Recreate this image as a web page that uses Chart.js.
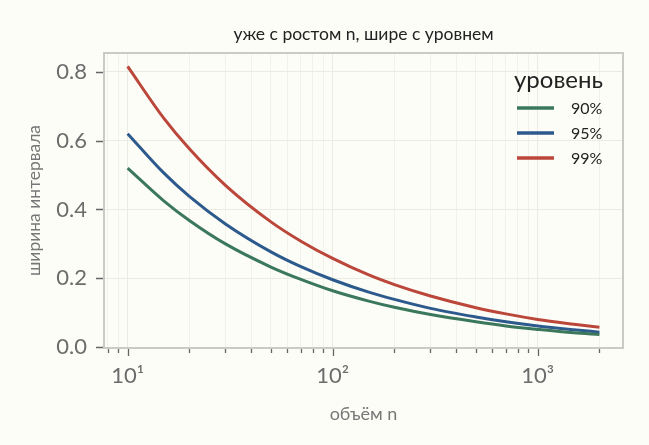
<!DOCTYPE html>
<html><head><meta charset="utf-8">
<script src="https://cdn.jsdelivr.net/npm/chart.js@4/dist/chart.umd.min.js"></script>
<style>html,body{margin:0;padding:0;background:#fdfdf8}#w{width:649px;height:445px}</style>
</head><body><div id="w"><canvas id="c" width="649" height="445"></canvas></div>
<script>
const titleText = 'уже с ростом n, шире с уровнем';
const xTitle = 'объём n';
const yTitle = 'ширина интервала';
const legendTitle = 'уровень';
const seriesLabels = ['90%', '95%', '99%'];
const nValues = [10, 15, 20, 30, 50, 70, 100, 150, 200, 300, 500, 700, 1000, 1500, 2000];
const w90 = [0.520, 0.425, 0.368, 0.300, 0.233, 0.197, 0.164, 0.134, 0.116, 0.095, 0.074, 0.062, 0.052, 0.042, 0.037];
const w95 = [0.620, 0.506, 0.438, 0.358, 0.277, 0.234, 0.196, 0.160, 0.139, 0.113, 0.088, 0.074, 0.062, 0.051, 0.044];
const w99 = [0.815, 0.665, 0.576, 0.470, 0.364, 0.308, 0.258, 0.210, 0.182, 0.149, 0.115, 0.097, 0.081, 0.067, 0.058];
const xMajorTicks = [10, 100, 1000];
const xMajorLabels = ['10¹', '10²', '10³'];
const xMinorTicks = [8, 9, 20, 30, 40, 50, 60, 70, 80, 90, 200, 300, 400, 500, 600, 700, 800, 900, 2000];
const yTicks = [0, 0.2, 0.4, 0.6, 0.8];
const colors = ['#3b785b', '#2d5a8c', '#bb463a'];

const FONT = 'Lato, "Noto Sans", sans-serif';
const allX = xMajorTicks.concat(xMinorTicks).sort((a,b)=>a-b);

const deco = {
  id: 'deco',
  afterDraw(chart) {
    const {ctx, chartArea: a, scales} = chart;
    ctx.save();
    ctx.strokeStyle = '#cbcbc3';
    ctx.lineWidth = 2;
    ctx.strokeRect(a.left, a.top, a.right - a.left, a.bottom - a.top);
    ctx.strokeStyle = '#666';
    ctx.lineWidth = 1.3;
    ctx.beginPath();
    allX.forEach(v => {
      const px = Math.round(scales.x.getPixelForValue(v)) + 0.5;
      const len = xMajorTicks.includes(v) ? 7 : 4;
      ctx.moveTo(px, a.bottom + 1); ctx.lineTo(px, a.bottom + 1 + len);
    });
    yTicks.forEach(v => {
      const py = Math.round(scales.y.getPixelForValue(v)) + 0.5;
      ctx.moveTo(a.left - 1, py); ctx.lineTo(a.left - 8, py);
    });
    ctx.stroke();
    ctx.fillStyle = '#222';
    ctx.font = '17.5px ' + FONT;
    ctx.textAlign = 'center';
    ctx.textBaseline = 'middle';
    ctx.fillText(titleText, (a.left + a.right) / 2, 34);
    ctx.textAlign = 'left';
    ctx.font = '24px ' + FONT;
    ctx.fillStyle = '#222';
    ctx.fillText(legendTitle, 514, 80);
    ctx.font = '16px ' + FONT;
    chart.data.datasets.forEach((ds, i) => {
      const y = 108 + i * 25;
      ctx.strokeStyle = ds.borderColor;
      ctx.lineWidth = 3.5;
      ctx.beginPath(); ctx.moveTo(517, y); ctx.lineTo(554, y); ctx.stroke();
      ctx.fillStyle = '#222';
      ctx.fillText(ds.label, 571, y + 1);
    });
    ctx.restore();
  }
};

const mk = (arr) => nValues.map((n, i) => ({x: n, y: arr[i]}));

new Chart(document.getElementById('c'), {
  type: 'line',
  data: {
    datasets: [w90, w95, w99].map((arr, i) => ({
      label: seriesLabels[i],
      data: mk(arr),
      borderColor: colors[i],
      backgroundColor: colors[i],
      borderWidth: 3,
      pointRadius: 0,
      tension: 0.4,
      cubicInterpolationMode: 'monotone',
      fill: false
    }))
  },
  options: {
    responsive: false,
    animation: false,
    layout: {padding: {left: 20, right: 26, top: 53, bottom: 16}},
    plugins: {legend: {display: false}, title: {display: false}, tooltip: {enabled: false}},
    scales: {
      x: {
        type: 'logarithmic',
        min: 7.67, max: 2606,
        afterBuildTicks(s) { s.ticks = allX.map(v => ({value: v, major: xMajorTicks.includes(v)})); },
        afterFit(s) { s.height = 81; },
        ticks: {
          autoSkip: false, maxRotation: 0, padding: 15,
          color: '#6c6c6c', font: {family: FONT, size: 22},
          callback(v) { const k = xMajorTicks.indexOf(v); return k >= 0 ? xMajorLabels[k] : ''; }
        },
        grid: {
          drawTicks: false,
          color(ctx) { return ctx.tick && xMajorTicks.includes(ctx.tick.value) ? '#ebebe3' : '#f2f2ec'; },
          lineWidth: 1
        },
        border: {display: false},
        title: {display: true, text: xTitle, color: '#777', font: {family: FONT, size: 18}, padding: {top: 4}}
      },
      y: {
        min: -0.002, max: 0.854,
        afterBuildTicks(s) { s.ticks = yTicks.map(v => ({value: v})); },
        afterFit(s) { s.width = 84; },
        ticks: {
          padding: 17, color: '#6c6c6c', font: {family: FONT, size: 22},
          callback(v) { return Number(v).toFixed(1); }
        },
        grid: {drawTicks: false, color: '#ebebe3', lineWidth: 1},
        border: {display: false},
        title: {display: true, text: yTitle, color: '#777', font: {family: FONT, size: 17.5}, padding: {bottom: 0}}
      }
    }
  },
  plugins: [deco]
});
</script>
</body></html>
